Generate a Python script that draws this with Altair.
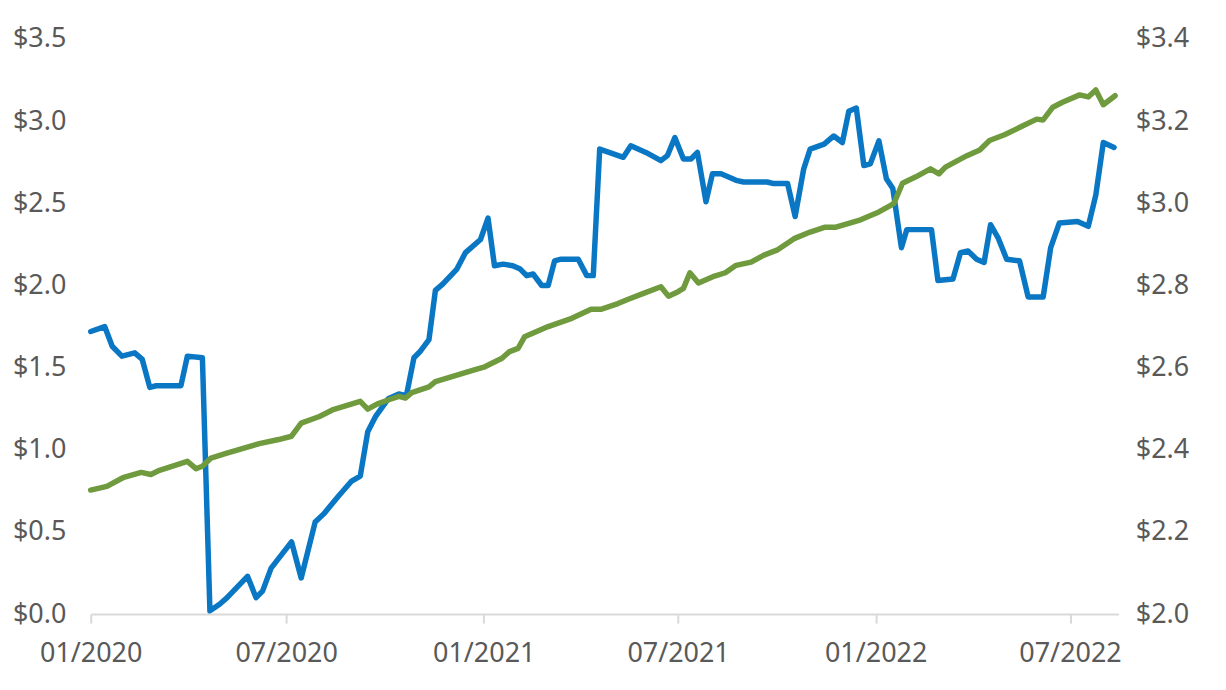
import altair as alt
import pandas as pd

# Blue series (left axis, $)
blue_dates = [
    "2020-01-01", "2020-01-14", "2020-01-21", "2020-01-30", "2020-02-11", "2020-02-18",
    "2020-02-25", "2020-03-02", "2020-03-25", "2020-03-31", "2020-04-14", "2020-04-21",
    "2020-04-30", "2020-05-07", "2020-05-26", "2020-06-03", "2020-06-09", "2020-06-17",
    "2020-07-06", "2020-07-15", "2020-07-28", "2020-08-05", "2020-08-19", "2020-08-31",
    "2020-09-08", "2020-09-15", "2020-09-22", "2020-10-04", "2020-10-14", "2020-10-21",
    "2020-10-28", "2020-11-03", "2020-11-11", "2020-11-17", "2020-11-24", "2020-12-07",
    "2020-12-15", "2020-12-29", "2021-01-05", "2021-01-11", "2021-01-19", "2021-01-28",
    "2021-02-04", "2021-02-10", "2021-02-16", "2021-02-24", "2021-03-02", "2021-03-08",
    "2021-03-14", "2021-03-30", "2021-04-07", "2021-04-13", "2021-04-19", "2021-05-11",
    "2021-05-18", "2021-06-01", "2021-06-15", "2021-06-21", "2021-06-28", "2021-07-06",
    "2021-07-13", "2021-07-19", "2021-07-27", "2021-08-02", "2021-08-10", "2021-08-24",
    "2021-08-31", "2021-09-22", "2021-09-28", "2021-10-11", "2021-10-18", "2021-10-26",
    "2021-11-01", "2021-11-14", "2021-11-23", "2021-12-01", "2021-12-07", "2021-12-14",
    "2021-12-21", "2021-12-27", "2022-01-04", "2022-01-11", "2022-01-17", "2022-01-25",
    "2022-01-30", "2022-02-22", "2022-02-28", "2022-03-14", "2022-03-21", "2022-03-28",
    "2022-04-05", "2022-04-12", "2022-04-18", "2022-04-25", "2022-05-03", "2022-05-15",
    "2022-05-23", "2022-06-06", "2022-06-13", "2022-06-21", "2022-07-08", "2022-07-18",
    "2022-07-25", "2022-08-01", "2022-08-11",
]
blue_values = [
    1.72, 1.75, 1.63, 1.57, 1.59, 1.55,
    1.38, 1.39, 1.39, 1.57, 1.56, 0.02,
    0.06, 0.10, 0.23, 0.10, 0.14, 0.28,
    0.44, 0.22, 0.56, 0.61, 0.72, 0.81,
    0.84, 1.11, 1.20, 1.31, 1.34, 1.33,
    1.56, 1.60, 1.67, 1.97, 2.01, 2.10,
    2.20, 2.28, 2.41, 2.12, 2.13, 2.12,
    2.10, 2.06, 2.07, 2.00, 2.00, 2.15,
    2.16, 2.16, 2.06, 2.06, 2.83, 2.78,
    2.85, 2.81, 2.76, 2.79, 2.90, 2.77,
    2.77, 2.81, 2.51, 2.68, 2.68, 2.64,
    2.63, 2.63, 2.62, 2.62, 2.42, 2.71,
    2.83, 2.86, 2.91, 2.87, 3.06, 3.08,
    2.73, 2.74, 2.88, 2.65, 2.59, 2.23,
    2.34, 2.34, 2.03, 2.04, 2.20, 2.21,
    2.16, 2.14, 2.37, 2.29, 2.16, 2.15,
    1.93, 1.93, 2.23, 2.38, 2.39, 2.36,
    2.55, 2.87, 2.84,
]

# Green series (right axis, $)
green_dates = [
    "2020-01-01", "2020-01-16", "2020-01-31", "2020-02-17", "2020-02-26", "2020-03-05",
    "2020-03-31", "2020-04-08", "2020-04-14", "2020-04-22", "2020-05-06", "2020-06-06",
    "2020-06-24", "2020-07-06", "2020-07-15", "2020-08-01", "2020-08-13", "2020-09-08",
    "2020-09-15", "2020-09-24", "2020-10-06", "2020-10-14", "2020-10-20", "2020-10-26",
    "2020-11-11", "2020-11-17", "2020-12-24", "2021-01-02", "2021-01-18", "2021-01-25",
    "2021-02-02", "2021-02-08", "2021-03-02", "2021-03-24", "2021-04-11", "2021-04-20",
    "2021-05-06", "2021-05-15", "2021-05-31", "2021-06-15", "2021-06-22", "2021-07-01",
    "2021-07-06", "2021-07-12", "2021-07-20", "2021-08-04", "2021-08-14", "2021-08-24",
    "2021-09-07", "2021-09-19", "2021-10-01", "2021-10-17", "2021-11-01", "2021-11-15",
    "2021-11-25", "2021-12-18", "2022-01-04", "2022-01-15", "2022-01-18", "2022-01-26",
    "2022-02-07", "2022-02-21", "2022-03-01", "2022-03-07", "2022-03-27", "2022-04-08",
    "2022-04-17", "2022-05-01", "2022-05-31", "2022-06-06", "2022-06-15", "2022-06-24",
    "2022-07-10", "2022-07-18", "2022-07-25", "2022-08-01", "2022-08-12",
]
green_values = [
    2.302, 2.311, 2.332, 2.345, 2.340, 2.350,
    2.372, 2.354, 2.360, 2.380, 2.391, 2.415,
    2.425, 2.433, 2.465, 2.481, 2.497, 2.518,
    2.499, 2.512, 2.523, 2.530, 2.526, 2.539,
    2.553, 2.566, 2.595, 2.602, 2.623, 2.639,
    2.647, 2.675, 2.700, 2.720, 2.742, 2.742,
    2.756, 2.766, 2.782, 2.797, 2.774, 2.785,
    2.793, 2.831, 2.806, 2.823, 2.831, 2.849,
    2.857, 2.874, 2.886, 2.914, 2.930, 2.942,
    2.942, 2.960, 2.979, 2.995, 3.000, 3.049,
    3.064, 3.084, 3.072, 3.088, 3.116, 3.130,
    3.153, 3.167, 3.205, 3.203, 3.234, 3.246,
    3.264, 3.259, 3.276, 3.240, 3.262,
]

left_ticks = [0.0, 0.5, 1.0, 1.5, 2.0, 2.5, 3.0, 3.5]
right_ticks = [2.0, 2.2, 2.4, 2.6, 2.8, 3.0, 3.2, 3.4]
x_tick_dates = [(2020, 1), (2020, 7), (2021, 1), (2021, 7), (2022, 1), (2022, 7)]

BLUE = "#0a77c4"
GREEN = "#6f9a3d"
TEXT = "#595959"
AXIS = "#d9d9d9"
FONT = "Noto Sans"
FS = 27

blue_df = pd.DataFrame({"date": blue_dates, "value": blue_values})
green_df = pd.DataFrame({"date": green_dates, "value": green_values})

x_enc = alt.X(
    "date:T",
    scale=alt.Scale(type="utc", domain=[alt.DateTime(year=2020, month=1, date=1, utc=True),
                                        alt.DateTime(year=2022, month=8, date=15, utc=True)]),
    axis=alt.Axis(
        values=[alt.DateTime(year=y, month=m, date=1, utc=True) for y, m in x_tick_dates],
        format="%m/%Y",
        title=None,
        grid=False,
        domainColor=AXIS,
        domainWidth=2,
        tickColor=AXIS,
        tickWidth=2,
        tickSize=9,
        labelPadding=18,
        labelFont=FONT,
        labelFontSize=FS,
        labelColor=TEXT,
        labelFlush=False,
        labelOverlap=False,
    ),
)

blue_line = alt.Chart(blue_df).mark_line(
    color=BLUE, strokeWidth=5.5, strokeJoin="round", strokeCap="round"
).encode(
    x=x_enc,
    y=alt.Y(
        "value:Q",
        scale=alt.Scale(domain=[0, 3.5], nice=False, zero=False),
        axis=alt.Axis(
            values=left_ticks, format="$.1f", title=None, grid=False, domain=False,
            ticks=False, labelPadding=25, labelFont=FONT, labelFontSize=FS,
            labelColor=TEXT, labelFlush=False, labelOverlap=False, orient="left",
        ),
    ),
)

green_line = alt.Chart(green_df).mark_line(
    color=GREEN, strokeWidth=5.5, strokeJoin="round", strokeCap="round"
).encode(
    x=x_enc,
    y=alt.Y(
        "value:Q",
        scale=alt.Scale(domain=[2.0, 3.4], nice=False, zero=False),
        axis=alt.Axis(
            values=right_ticks, format="$.1f", title=None, grid=False, domain=False,
            ticks=False, labelPadding=17, labelFont=FONT, labelFontSize=FS,
            labelColor=TEXT, labelFlush=False, labelOverlap=False, orient="right",
        ),
    ),
)

chart = alt.layer(blue_line, green_line).resolve_scale(y="independent").properties(
    width=1031,
    height=577,
    autosize=alt.AutoSizeParams(type="none"),
    padding={"left": 83, "top": 30, "right": 100, "bottom": 70},
).configure_view(stroke=None, strokeWidth=0)

chart.save("out.html", embed_options={"renderer": "svg", "actions": False})
